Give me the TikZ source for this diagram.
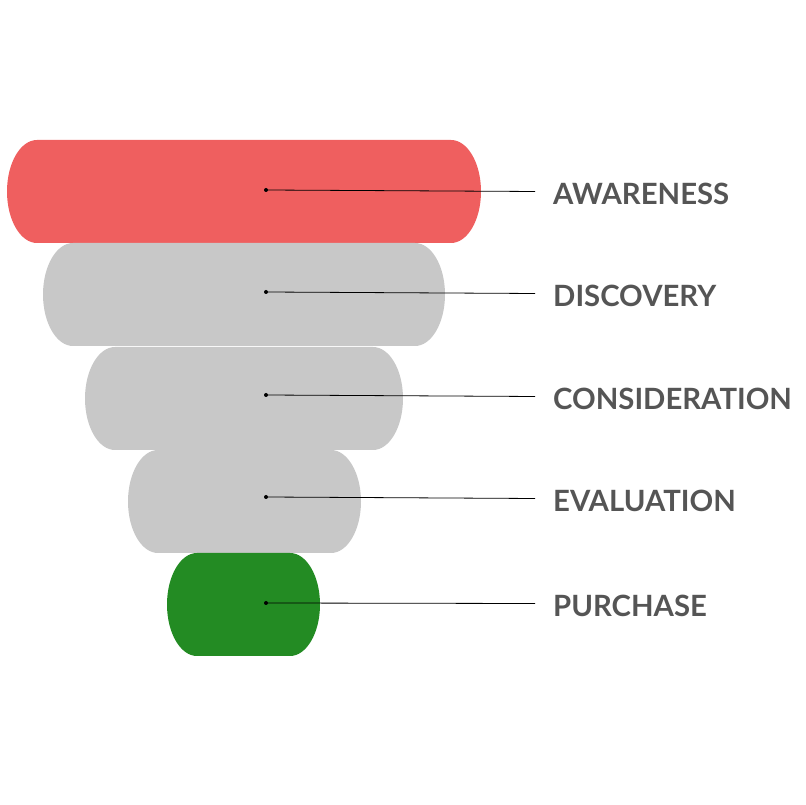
\documentclass[tikz,border=0pt]{standalone}
\usepackage{fontspec}
\setmainfont{Lato}
\definecolor{bandred}{HTML}{EF5F5F}
\definecolor{bandgray}{HTML}{C8C8C8}
\definecolor{bandgreen}{HTML}{238B23}
\definecolor{labelgray}{HTML}{555555}
\newcommand{\fband}[4]{%
  \fill[#1] ({#2+30},#4) -- ({#3-30},#4)
    arc[start angle=90,end angle=-90,x radius=30,y radius=51.5]
    -- ({#2+30},{#4-103})
    arc[start angle=-90,end angle=-270,x radius=30,y radius=51.5] -- cycle;}
\begin{document}
\begin{tikzpicture}[x=1bp,y=1bp,
  stagelabel/.style={anchor=west,inner sep=0pt,text=labelgray,
    font=\fontsize{29.3bp}{34bp}\selectfont\bfseries},
  leader/.style={draw=black,line width=0.8bp},
  dotmark/.style={fill=black}]
\useasboundingbox (0,0) rectangle (805,805);
% bands
\fband{bandred}{7}{481}{665}
\fband{bandgray}{43}{445}{562}
\fband{bandgray}{85}{403}{458}
\fband{bandgray}{128}{361}{355}
\fband{bandgreen}{167}{320}{252}
% dots
\coordinate (d1) at (266,615);
\coordinate (d2) at (266,513);
\coordinate (d3) at (266,410);
\coordinate (d4) at (266,308);
\coordinate (d5) at (266,202);
% line ends
\coordinate (e1) at (535,613.5);
\coordinate (e2) at (535,511.5);
\coordinate (e3) at (535,408.5);
\coordinate (e4) at (535,306.5);
\coordinate (e5) at (535,201.5);
% labels
\node[stagelabel] (l1) at (553,611.5) {AWARENESS};
\node[stagelabel] (l2) at (553,509.5) {DISCOVERY};
\node[stagelabel] (l3) at (553,406.5) {CONSIDERATION};
\node[stagelabel] (l4) at (553,304.5) {EVALUATION};
\node[stagelabel] (l5) at (553,199.5) {PURCHASE};
\foreach \i in {1,...,5}{
  \draw[leader] (d\i) -- (e\i);
  \fill[dotmark] (d\i) circle (2);
}
\end{tikzpicture}
\end{document}
